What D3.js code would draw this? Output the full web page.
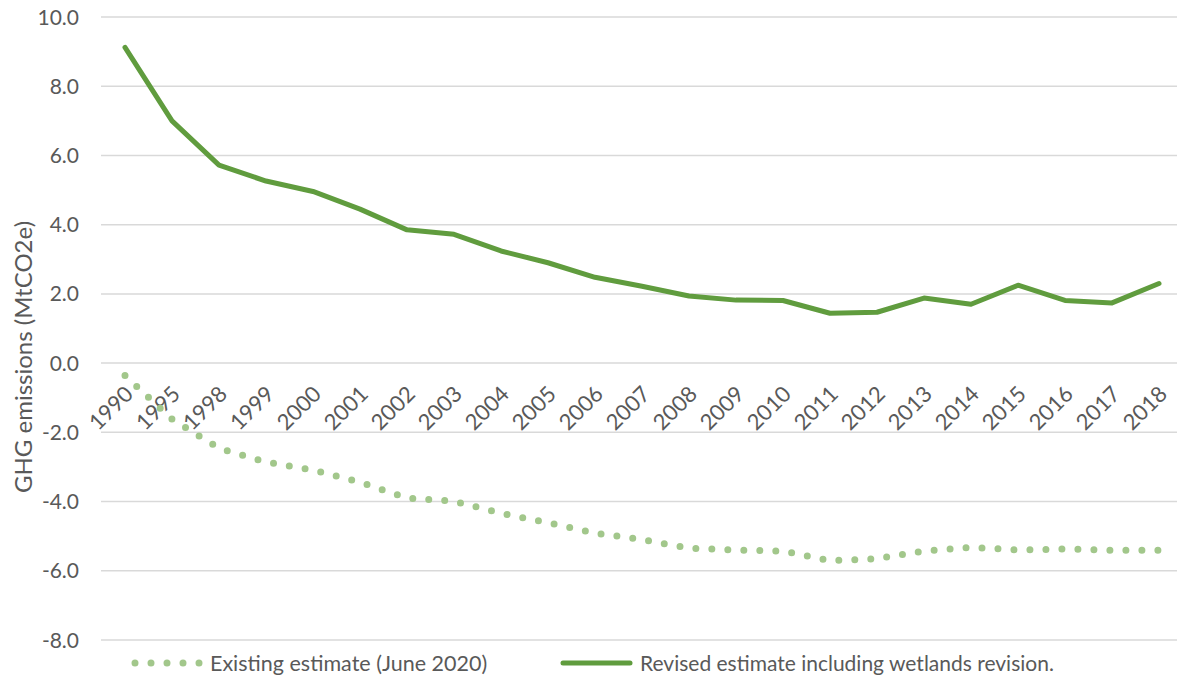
<!DOCTYPE html>
<html>
<head>
<meta charset="utf-8">
<script src="https://cdn.jsdelivr.net/npm/d3@7"></script>
<style>
    body { margin: 0; background: #fff; }
    text { font-family: Lato, Calibri, 'Noto Sans', sans-serif; fill: #595959; }
</style>
</head>
<body>
<div id="chart"></div>
<script>
// categories on the x axis
let years = ['1990', '1995', '1998', '1999', '2000', '2001', '2002', '2003', '2004', '2005', '2006',
    '2007', '2008', '2009', '2010', '2011', '2012', '2013', '2014', '2015', '2016', '2017', '2018'];

// Existing estimate (June 2020), MtCO2e
let existing = [-0.36, -1.62, -2.46, -2.86, -3.09, -3.44, -3.90, -3.99, -4.34, -4.61, -4.91,
    -5.10, -5.35, -5.40, -5.43, -5.71, -5.65, -5.43, -5.32, -5.40, -5.37, -5.41, -5.41];

// Revised estimate including wetlands revision, MtCO2e
let revised = [9.12, 7.0, 5.72, 5.26, 4.96, 4.45, 3.85, 3.72, 3.24, 2.90, 2.48,
    2.22, 1.94, 1.82, 1.81, 1.44, 1.47, 1.88, 1.70, 2.25, 1.81, 1.74, 2.30];

let yTicks = [-8, -6, -4, -2, 0, 2, 4, 6, 8, 10];

let seriesNames = ['Existing estimate (June 2020)', 'Revised estimate including wetlands revision.'];

const W = 1177, H = 679;
const darkGreen = '#609c3e';
const lightGreen = '#a2c78b';

let svg = d3.select('#chart').append('svg')
    .attr('width', W)
    .attr('height', H);

let x = d3.scalePoint().domain(years).range([125, 1159]);
let y = d3.scaleLinear().domain([-8, 10]).range([640, 17]);

// gridlines
svg.append('g')
    .selectAll('line')
    .data(yTicks)
    .enter().append('line')
    .attr('x1', 101)
    .attr('x2', W)
    .attr('y1', d => y(d))
    .attr('y2', d => y(d))
    .style('stroke', '#d9d9d9')
    .style('stroke-width', 1.5);

// y axis labels (plain hyphen like the original, not a unicode minus)
svg.append('g')
    .selectAll('text')
    .data(yTicks)
    .enter().append('text')
    .attr('x', 79)
    .attr('y', d => y(d))
    .attr('dy', '0.36em')
    .attr('text-anchor', 'end')
    .style('font-size', '21px')
    .text(d => d.toFixed(1));

// y axis title
svg.append('text')
    .attr('transform', 'translate(32,357) rotate(-90)')
    .attr('text-anchor', 'middle')
    .style('font-size', '24px')
    .text('GHG emissions (MtCO2e)');

// x labels, rotated, sitting on the zero line
svg.append('g')
    .selectAll('text')
    .data(years)
    .enter().append('text')
    .attr('transform', d => 'translate(' + (x(d) + 4) + ',390) rotate(-45)')
    .attr('text-anchor', 'end')
    .attr('dy', '0.35em')
    .style('font-size', '22px')
    .text(d => d);

let line = d3.line()
    .x((d, i) => x(years[i]))
    .y(d => y(d));

// existing estimate (dotted)
svg.append('path')
    .datum(existing)
    .attr('d', line)
    .style('fill', 'none')
    .style('stroke', lightGreen)
    .style('stroke-width', 7)
    .style('stroke-linecap', 'round')
    .style('stroke-dasharray', '0 16');

// revised estimate (solid)
svg.append('path')
    .datum(revised)
    .attr('d', line)
    .style('fill', 'none')
    .style('stroke', darkGreen)
    .style('stroke-width', 5)
    .style('stroke-linejoin', 'round')
    .style('stroke-linecap', 'round');

// legend
let legend = svg.append('g');

legend.append('line')
    .attr('x1', 135).attr('x2', 200)
    .attr('y1', 663).attr('y2', 663)
    .style('stroke', lightGreen)
    .style('stroke-width', 7)
    .style('stroke-linecap', 'round')
    .style('stroke-dasharray', '0 16');

legend.append('text')
    .attr('x', 210)
    .attr('y', 663)
    .attr('dy', '0.36em')
    .style('font-size', '21.5px')
    .text(seriesNames[0]);

legend.append('line')
    .attr('x1', 563).attr('x2', 630)
    .attr('y1', 663).attr('y2', 663)
    .style('stroke', darkGreen)
    .style('stroke-width', 5)
    .style('stroke-linecap', 'round');

legend.append('text')
    .attr('x', 640)
    .attr('y', 663)
    .attr('dy', '0.36em')
    .style('font-size', '21px')
    .text(seriesNames[1]);
</script>
</body>
</html>
